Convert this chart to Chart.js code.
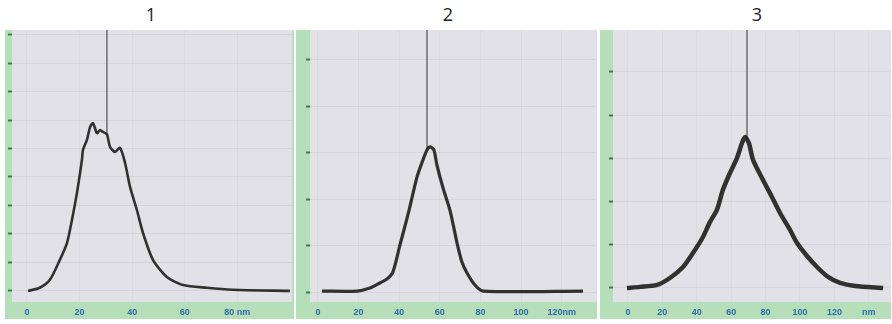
<!DOCTYPE html>
<html>
<head>
<meta charset="utf-8">
<script src="https://cdn.jsdelivr.net/npm/chart.js@4"></script>
<style>
  html, body { margin: 0; padding: 0; background: #fff; width: 892px; height: 324px; overflow: hidden; }
  .panel { position: absolute; top: 30px; height: 289px; }
  .title { position: absolute; top: 2px; width: 40px; margin-left: -20px; text-align: center;
           font: 18px "Open Sans", sans-serif; line-height: 24px; color: #222; }
</style>
</head>
<body>
<div class="title" style="left:151px">1</div>
<div class="title" style="left:448px">2</div>
<div class="title" style="left:757px">3</div>
<div class="panel" style="left:5px;width:289px"><canvas id="c1"></canvas></div>
<div class="panel" style="left:296px;width:301px"><canvas id="c2"></canvas></div>
<div class="panel" style="left:600px;width:291px"><canvas id="c3"></canvas></div>
<script>
// panel 1
const xTicks1 = [0, 20, 40, 60, 80];
const xLabels1 = ["0", "20", "40", "60", "80 nm"];
const yTicks1 = [0, 10, 20, 30, 40, 50, 60, 70, 80, 90];
const curveX1 = [0.4, 4.9, 8.7, 12.5, 15.2, 17.1, 19.0, 20.9, 21.3, 22.8, 24.0, 25.1, 26.6, 27.8, 28.9, 30.4, 31.6, 33.5, 35.4, 37.3, 39.2, 41.8, 44.1, 47.9, 53.2, 59.3, 68.4, 78.3, 100];
const curveY1 = [0, 1.1, 3.9, 10.9, 16.8, 24.9, 34.4, 46.0, 49.5, 53.0, 57.5, 58.9, 55.4, 56.5, 55.8, 55.0, 50.5, 48.8, 50.2, 44.9, 36.5, 28.4, 20.4, 10.9, 4.9, 2.1, 1.1, 0.4, 0];
const spikeX1 = 30.4;
const spikeY1 = [55.0, 92];

// panel 2
const xTicks2 = [0, 20, 40, 60, 80, 100, 120];
const xLabels2 = ["0", "20", "40", "60", "80", "100", "120nm"];
const yTicks2 = [0, 20, 40, 60, 80, 100];
const curveX2 = [2.0, 19.2, 25.6, 30.5, 34.0, 36.9, 40.4, 44.3, 48.8, 51.7, 53.7, 55.2, 57.1, 58.6, 61.6, 65.0, 68.5, 70.9, 73.4, 77.3, 81.3, 130.5];
const curveY2 = [0.4, 0.4, 1.7, 3.9, 5.6, 8.6, 20.3, 33.2, 49.6, 56.9, 61.2, 62.5, 61.2, 54.7, 44.8, 35.3, 21.1, 12.9, 8.2, 3.0, 0.4, 0.4];
const spikeX2 = 53.7;
const spikeY2 = [61.2, 114];

// panel 3
const xTicks3 = [0, 20, 40, 60, 80, 100, 120, 140];
const xLabels3 = ["0", "20", "40", "60", "80", "100", "120", "nm"];
const yTicks3 = [0, 20, 40, 60, 80, 100];
const curveX3 = [-0.6, 7.0, 16.9, 24.4, 32.0, 37.8, 43.6, 47.7, 51.7, 55.2, 59.3, 63.4, 66.3, 68.0, 70.3, 72.7, 78.5, 83.7, 88.4, 94.2, 98.3, 104.1, 109.9, 116.3, 123.3, 132.0, 148.3];
const curveY3 = [0, 0.5, 1.4, 4.6, 9.7, 16.2, 23.6, 30.6, 36.1, 45.4, 53.2, 60.2, 67.1, 69.9, 67.1, 59.3, 50.0, 42.1, 34.7, 26.9, 20.8, 14.8, 9.7, 5.1, 2.3, 0.9, 0];
const spikeX3 = 69.2;
const spikeY3 = [68.5, 120];

// green strips around the grey plot area
const panelBg = {
  id: "panelBg",
  beforeDraw(chart) {
    const { ctx, chartArea: a, width, height } = chart;
    ctx.save();
    ctx.fillStyle = "#b4dfb8";
    ctx.fillRect(0, 0, width, height);
    ctx.fillStyle = "#e2e1e7";
    ctx.fillRect(a.left, a.top, a.right - a.left, a.bottom - a.top);
    ctx.restore();
  }
};

function makeChart(id, p) {
  const points = p.xs.map((x, i) => ({ x: x, y: p.ys[i] }));
  const spike = p.spikeY.map(y => ({ x: p.spikeX, y: y }));

  return new Chart(document.getElementById(id), {
    type: "line",
    data: {
      datasets: [
        { data: points, borderColor: "rgba(18,18,18,0.85)", borderWidth: p.lineWidth, pointRadius: 0, tension: 0.25 },
        { data: spike, borderColor: "#5a5a5e", borderWidth: 1.3, pointRadius: 0 }
      ]
    },
    options: {
      responsive: true,
      maintainAspectRatio: false,
      animation: false,
      layout: { padding: { top: 0, left: 0, right: p.padRight, bottom: 0 } },
      plugins: { legend: { display: false }, tooltip: { enabled: false } },
      scales: {
        x: {
          type: "linear",
          min: p.xMin,
          max: p.xMax,
          afterBuildTicks: s => { s.ticks = p.xTicks.map(v => ({ value: v })); },
          afterFit: s => { s.height = 17; },
          border: { display: false },
          grid: { color: "rgba(120,120,140,0.06)", drawTicks: false },
          ticks: {
            autoSkip: false,
            maxRotation: 0,
            padding: 5,
            color: "#3566b0",
            font: { family: "Liberation Sans", size: 9, weight: "bold" },
            callback: v => p.xLabels[p.xTicks.indexOf(v)]
          }
        },
        y: {
          min: p.yMin,
          max: p.yMax,
          afterBuildTicks: s => { s.ticks = p.yTicks.map(v => ({ value: v })); },
          afterFit: s => { s.width = p.axisWidth; },
          border: { display: false },
          grid: { color: "rgba(120,120,140,0.12)", tickLength: 4, tickColor: "#3d7a52", tickWidth: 2 },
          ticks: { display: false }
        }
      }
    },
    plugins: [panelBg]
  });
}

makeChart("c1", {
  xs: curveX1, ys: curveY1, spikeX: spikeX1, spikeY: spikeY1,
  xTicks: xTicks1, xLabels: xLabels1, yTicks: yTicks1,
  xMin: -5.7, xMax: 100.8, yMin: -3.9, yMax: 91.6,
  axisWidth: 7, padRight: 2, lineWidth: 2.6
});

makeChart("c2", {
  xs: curveX2, ys: curveY2, spikeX: spikeX2, spikeY: spikeY2,
  xTicks: xTicks2, xLabels: xLabels2, yTicks: yTicks2,
  xMin: -3.9, xMax: 137.4, yMin: -4.3, yMax: 112.9,
  axisWidth: 14, padRight: 0, lineWidth: 3.2
});

makeChart("c3", {
  xs: curveX3, ys: curveY3, spikeX: spikeX3, spikeY: spikeY3,
  xTicks: xTicks3, xLabels: xLabels3, yTicks: yTicks3,
  xMin: -8.7, xMax: 152.9, yMin: -6.5, yMax: 119.4,
  axisWidth: 13, padRight: 0, lineWidth: 4.5
});
</script>
</body>
</html>
